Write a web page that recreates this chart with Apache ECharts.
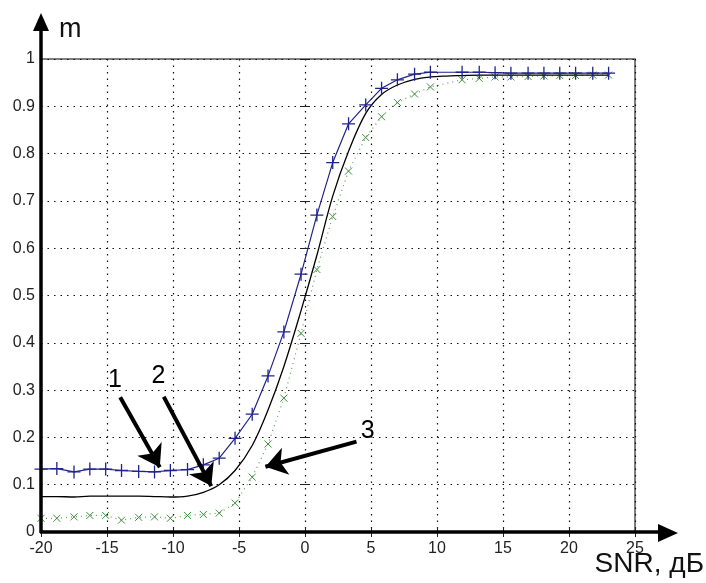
<!DOCTYPE html>
<html>
<head>
<meta charset="utf-8">
<script src="https://cdn.jsdelivr.net/npm/echarts@6/dist/echarts.min.js"></script>
<style>
  html, body { margin: 0; padding: 0; background: #fff; }
  #main { width: 706px; height: 583px; }
</style>
</head>
<body>
<div id="main"></div>
<script>
// SNR points where curves 1 and 3 have markers (one sample near 10.7 dB is absent)
const markerX = [-20, -18.8, -17.5, -16.3, -15.1, -13.9, -12.6, -11.4, -10.2, -8.9,
  -7.7, -6.5, -5.3, -4.0, -2.8, -1.6, -0.3, 0.9, 2.1, 3.3, 4.6, 5.8, 7.0, 8.3, 9.5,
  11.9, 13.2, 14.4, 15.6, 16.9, 18.1, 19.3, 20.5, 21.8, 23.0];
const curve1 = [0.133, 0.134, 0.127, 0.133, 0.133, 0.130, 0.128, 0.127, 0.130, 0.132,
  0.142, 0.156, 0.198, 0.249, 0.330, 0.423, 0.545, 0.670, 0.781, 0.863, 0.903, 0.938, 0.956, 0.968, 0.972,
  0.972, 0.972, 0.971, 0.970, 0.970, 0.970, 0.970, 0.970, 0.970, 0.970];
const curve3 = [0.029, 0.029, 0.032, 0.035, 0.035, 0.025, 0.031, 0.032, 0.029, 0.035,
  0.037, 0.040, 0.061, 0.116, 0.186, 0.283, 0.420, 0.555, 0.667, 0.763, 0.834, 0.878, 0.908, 0.926, 0.941,
  0.956, 0.959, 0.962, 0.962, 0.963, 0.964, 0.965, 0.965, 0.966, 0.966];

// curve 2 (plain black line)
const curveX = [-20, -18.8, -17.5, -16.3, -15.1, -13.9, -12.6, -11.4, -10.2, -8.9,
  -7.7, -6.5, -5.3, -4.0, -2.8, -1.6, -0.3, 0.9, 2.1, 3.3, 4.6, 5.8, 7.0, 8.3, 9.5,
  10.7, 11.9, 13.2, 14.4, 15.6, 16.9, 18.1, 19.3, 20.5, 21.8, 23.0];
const curve2 = [0.075, 0.075, 0.074, 0.076, 0.076, 0.076, 0.076, 0.075, 0.074, 0.076,
  0.084, 0.100, 0.130, 0.183, 0.258, 0.350, 0.468, 0.585, 0.710, 0.805, 0.885, 0.925, 0.945, 0.957, 0.962,
  0.964, 0.965, 0.966, 0.966, 0.966, 0.966, 0.966, 0.966, 0.966, 0.966, 0.966];

const xTickLabels = ['-20', '-15', '-10', '-5', '0', '5', '10', '15', '20', '25'];
const yTickLabels = ['0', '0.1', '0.2', '0.3', '0.4', '0.5', '0.6', '0.7', '0.8', '0.9', '1'];

// annotation arrows, in data units
const arrowNames = ['1', '2', '3'];
const arrowFrom = [[-14.0, 0.285], [-10.7, 0.286], [3.9, 0.191]];
const arrowTo = [[-11.0, 0.137], [-7.1, 0.097], [-3.0, 0.138]];
const arrowText = [[-14.4, 0.322], [-11.1, 0.330], [4.75, 0.214]];

const BLUE = '#20238c';
const GREEN = '#3f8f3f';
const FONT = 'Liberation Sans, Arial, sans-serif';

const plusSym = 'path://M0,5L10,5M5,0L5,10';
const crossSym = 'path://M0,0L10,10M10,0L0,10';

const chart = echarts.init(document.getElementById('main'));

const zip = (xs, ys) => xs.map((x, i) => [x, ys[i]]);

const baseX = {
  type: 'value', min: -20, max: 25, interval: 5
};
const baseY = {
  type: 'value', min: 0, max: 1, interval: 0.1
};

const option = {
  animation: false,
  backgroundColor: '#fff',
  grid: {
    left: 41, right: 71, top: 59, bottom: 51,
    show: true, borderColor: '#555', borderWidth: 1.5
  },
  xAxis: [
    Object.assign({}, baseX, {
      position: 'bottom',
      axisLine: { show: false },
      axisTick: { show: true, inside: true, length: 5, lineStyle: { color: '#222' } },
      axisLabel: {
        color: '#222', fontFamily: FONT, fontSize: 16, margin: 9,
        formatter: (v) => xTickLabels[Math.round((v + 20) / 5)]
      },
      splitLine: { show: true, lineStyle: { color: '#111', type: [1.5, 5], width: 1.2 } }
    }),
    Object.assign({}, baseX, {
      position: 'top',
      axisLine: { show: false },
      axisTick: { show: true, inside: true, length: 5, lineStyle: { color: '#222' } },
      axisLabel: { show: false },
      splitLine: { show: false }
    })
  ],
  yAxis: [
    Object.assign({}, baseY, {
      position: 'left',
      axisLine: { show: false },
      axisTick: { show: true, inside: true, length: 5, lineStyle: { color: '#222' } },
      axisLabel: {
        color: '#222', fontFamily: FONT, fontSize: 16, margin: 6,
        formatter: (v) => yTickLabels[Math.round(v * 10)]
      },
      splitLine: { show: true, lineStyle: { color: '#111', type: [1.5, 5], width: 1.2 } }
    }),
    Object.assign({}, baseY, {
      position: 'right',
      axisLine: { show: false },
      axisTick: { show: true, inside: true, length: 5, lineStyle: { color: '#222' } },
      axisLabel: { show: false },
      splitLine: { show: false }
    })
  ],
  series: [
    {
      name: '2',
      type: 'line',
      data: zip(curveX, curve2),
      smooth: 0.35,
      showSymbol: false,
      lineStyle: { color: '#000', width: 1.3 },
      z: 3,
      markLine: {
        silent: true,
        symbol: ['none', 'arrow'],
        symbolSize: 21,
        lineStyle: { color: '#000', width: 4, type: 'solid' },
        label: { show: false },
        data: arrowFrom.map((p, i) => [{ coord: p }, { coord: arrowTo[i] }])
      },
      markPoint: {
        silent: true,
        symbol: 'circle',
        symbolSize: 0,
        label: {
          show: true, position: 'inside', formatter: '{b}',
          color: '#000', fontFamily: FONT, fontSize: 25
        },
        data: arrowText.map((p, i) => ({ name: arrowNames[i], coord: p }))
      }
    },
    {
      name: '3',
      type: 'line',
      data: zip(markerX, curve3),
      symbol: crossSym,
      symbolSize: 7,
      lineStyle: { color: '#5aa05a', width: 1.2, type: [1, 4] },
      itemStyle: { color: GREEN, borderColor: GREEN, borderWidth: 1 },
      z: 2
    },
    {
      name: '1',
      type: 'line',
      data: zip(markerX, curve1),
      symbol: plusSym,
      symbolSize: 13,
      lineStyle: { color: BLUE, width: 1.2 },
      itemStyle: { color: BLUE, borderColor: BLUE, borderWidth: 1.3 },
      z: 4
    }
  ]
};

chart.setOption(option);

// thick axes with arrow heads reaching past the plot box
const origin = chart.convertToPixel({ gridIndex: 0 }, [-20, 0]);
const yTopPx = chart.convertToPixel({ gridIndex: 0 }, [-20, 1]);
const yTipY = yTopPx[1] - 46;
const xTipX = 678;
chart.setOption({
  graphic: [
    { type: 'line', shape: { x1: origin[0], y1: origin[1] + 1, x2: origin[0], y2: yTipY + 14 },
      style: { stroke: '#000', lineWidth: 3.5 }, z: 10 },
    { type: 'polygon', shape: { points: [[origin[0], yTipY], [origin[0] - 8, yTipY + 18], [origin[0] + 8, yTipY + 18]] },
      style: { fill: '#000' }, z: 10 },
    { type: 'line', shape: { x1: origin[0] - 1, y1: origin[1], x2: xTipX - 14, y2: origin[1] },
      style: { stroke: '#000', lineWidth: 3.5 }, z: 10 },
    { type: 'polygon', shape: { points: [[xTipX, origin[1] + 1], [xTipX - 20, origin[1] - 8], [xTipX - 20, origin[1] + 10]] },
      style: { fill: '#000' }, z: 10 },
    { type: 'text', left: 59, top: 16,
      style: { text: 'm', fill: '#111', font: '27px ' + FONT } },
    { type: 'text', right: 2, top: 550,
      style: { text: 'SNR, дБ', fill: '#111', font: '28px ' + FONT } }
  ]
});
</script>
</body>
</html>
